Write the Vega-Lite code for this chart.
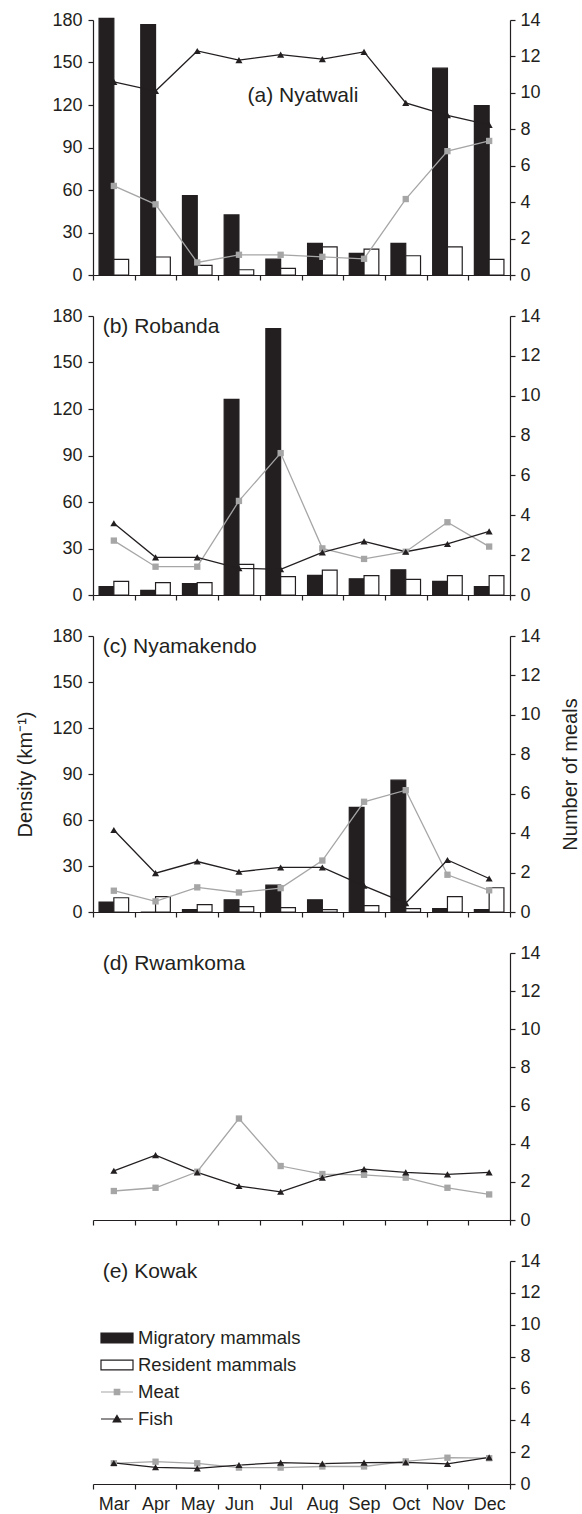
{
  "$schema": "https://vega.github.io/schema/vega-lite/v6.json",
  "padding": {"left": 15, "top": 11, "right": 0, "bottom": 0},
  "background": "white",
  "config": {
    "font": "Liberation Sans",
    "view": {"stroke": null},
    "axis": {"labelFont": "Liberation Sans", "labelFontSize": 18, "labelColor": "#231f20", "domainColor": "#231f20", "tickColor": "#231f20", "domainWidth": 1.2, "tickWidth": 1.2, "grid": false, "titleFont": "Liberation Sans", "titleFontSize": 20, "titleFontWeight": "normal", "titleColor": "#231f20"},
    "title": {"font": "Liberation Sans", "fontSize": 21, "fontWeight": "normal", "color": "#231f20", "anchor": "start", "frame": "group", "baseline": "middle", "offset": 0}
  },
  "spacing": 23,
  "data": {"values": [
    {"p": "a", "m": "Mar", "Migratory mammals": 181.2, "Resident mammals": 11, "Meat": 4.89, "Fish": 10.6},
    {"p": "a", "m": "Apr", "Migratory mammals": 176.7, "Resident mammals": 12.7, "Meat": 3.88, "Fish": 10.1},
    {"p": "a", "m": "May", "Migratory mammals": 56, "Resident mammals": 6.8, "Meat": 0.69, "Fish": 12.3},
    {"p": "a", "m": "Jun", "Migratory mammals": 42.4, "Resident mammals": 3.7, "Meat": 1.11, "Fish": 11.8},
    {"p": "a", "m": "Jul", "Migratory mammals": 11.2, "Resident mammals": 4.7, "Meat": 1.11, "Fish": 12.1},
    {"p": "a", "m": "Aug", "Migratory mammals": 22.3, "Resident mammals": 19.9, "Meat": 1.0, "Fish": 11.85},
    {"p": "a", "m": "Sep", "Migratory mammals": 15.2, "Resident mammals": 18.3, "Meat": 0.89, "Fish": 12.25},
    {"p": "a", "m": "Oct", "Migratory mammals": 22.3, "Resident mammals": 13.6, "Meat": 4.17, "Fish": 9.45},
    {"p": "a", "m": "Nov", "Migratory mammals": 146, "Resident mammals": 19.9, "Meat": 6.8, "Fish": 8.77},
    {"p": "a", "m": "Dec", "Migratory mammals": 119.5, "Resident mammals": 11, "Meat": 7.36, "Fish": 8.24},
    {"p": "b", "m": "Mar", "Migratory mammals": 5.4, "Resident mammals": 8.8, "Meat": 2.73, "Fish": 3.6},
    {"p": "b", "m": "Apr", "Migratory mammals": 3, "Resident mammals": 8, "Meat": 1.42, "Fish": 1.89},
    {"p": "b", "m": "May", "Migratory mammals": 7.3, "Resident mammals": 8, "Meat": 1.42, "Fish": 1.89},
    {"p": "b", "m": "Jun", "Migratory mammals": 126.2, "Resident mammals": 19.8, "Meat": 4.72, "Fish": 1.34},
    {"p": "b", "m": "Jul", "Migratory mammals": 171.8, "Resident mammals": 11.8, "Meat": 7.12, "Fish": 1.29},
    {"p": "b", "m": "Aug", "Migratory mammals": 12.7, "Resident mammals": 16.1, "Meat": 2.34, "Fish": 2.14},
    {"p": "b", "m": "Sep", "Migratory mammals": 10.5, "Resident mammals": 12.5, "Meat": 1.81, "Fish": 2.69},
    {"p": "b", "m": "Oct", "Migratory mammals": 16.3, "Resident mammals": 10.1, "Meat": 2.17, "Fish": 2.17},
    {"p": "b", "m": "Nov", "Migratory mammals": 8.8, "Resident mammals": 12.5, "Meat": 3.65, "Fish": 2.56},
    {"p": "b", "m": "Dec", "Migratory mammals": 5.4, "Resident mammals": 12.5, "Meat": 2.43, "Fish": 3.19},
    {"p": "c", "m": "Mar", "Migratory mammals": 6.5, "Resident mammals": 9.3, "Meat": 1.08, "Fish": 4.16},
    {"p": "c", "m": "Apr", "Migratory mammals": 0, "Resident mammals": 10, "Meat": 0.54, "Fish": 1.97},
    {"p": "c", "m": "May", "Migratory mammals": 1.5, "Resident mammals": 4.8, "Meat": 1.25, "Fish": 2.56},
    {"p": "c", "m": "Jun", "Migratory mammals": 8, "Resident mammals": 3.5, "Meat": 0.99, "Fish": 2.04},
    {"p": "c", "m": "Jul", "Migratory mammals": 17.5, "Resident mammals": 2.8, "Meat": 1.21, "Fish": 2.26},
    {"p": "c", "m": "Aug", "Migratory mammals": 8, "Resident mammals": 1.5, "Meat": 2.61, "Fish": 2.26},
    {"p": "c", "m": "Sep", "Migratory mammals": 68.2, "Resident mammals": 4.1, "Meat": 5.59, "Fish": 1.33},
    {"p": "c", "m": "Oct", "Migratory mammals": 86, "Resident mammals": 2.2, "Meat": 6.18, "Fish": 0.45},
    {"p": "c", "m": "Nov", "Migratory mammals": 2.2, "Resident mammals": 10, "Meat": 1.89, "Fish": 2.64},
    {"p": "c", "m": "Dec", "Migratory mammals": 1.5, "Resident mammals": 15.8, "Meat": 1.1, "Fish": 1.7},
    {"p": "d", "m": "Mar", "Meat": 1.52, "Fish": 2.58},
    {"p": "d", "m": "Apr", "Meat": 1.69, "Fish": 3.4},
    {"p": "d", "m": "May", "Meat": 2.53, "Fish": 2.5},
    {"p": "d", "m": "Jun", "Meat": 5.32, "Fish": 1.78},
    {"p": "d", "m": "Jul", "Meat": 2.83, "Fish": 1.48},
    {"p": "d", "m": "Aug", "Meat": 2.41, "Fish": 2.22},
    {"p": "d", "m": "Sep", "Meat": 2.37, "Fish": 2.67},
    {"p": "d", "m": "Oct", "Meat": 2.22, "Fish": 2.5},
    {"p": "d", "m": "Nov", "Meat": 1.69, "Fish": 2.39},
    {"p": "d", "m": "Dec", "Meat": 1.34, "Fish": 2.5},
    {"p": "e", "m": "Mar", "Meat": 1.3, "Fish": 1.32},
    {"p": "e", "m": "Apr", "Meat": 1.4, "Fish": 1.05},
    {"p": "e", "m": "May", "Meat": 1.3, "Fish": 0.98},
    {"p": "e", "m": "Jun", "Meat": 1.03, "Fish": 1.19},
    {"p": "e", "m": "Jul", "Meat": 1.03, "Fish": 1.34},
    {"p": "e", "m": "Aug", "Meat": 1.1, "Fish": 1.28},
    {"p": "e", "m": "Sep", "Meat": 1.1, "Fish": 1.34},
    {"p": "e", "m": "Oct", "Meat": 1.42, "Fish": 1.36},
    {"p": "e", "m": "Nov", "Meat": 1.65, "Fish": 1.26},
    {"p": "e", "m": "Dec", "Meat": 1.62, "Fish": 1.67}
  ]},
  "vconcat": [
    {
      "width": 417, "height": 255,
      "title": {"text": "(a) Nyatwali", "dx": 154.5, "dy": 99},
      "transform": [{"filter": "datum.p == 'a'"}, {"fold": ["Migratory mammals", "Resident mammals", "Meat", "Fish"], "as": ["s", "v"]}, {"filter": "isValid(datum.v)"}],
      "layer": [
        {
          "transform": [{"filter": "datum.s == 'Migratory mammals' || datum.s == 'Resident mammals'"}],
          "mark": {"type": "bar", "stroke": "#231f20", "strokeWidth": 1.2},
          "encoding": {
            "x": {"field": "m", "type": "nominal", "sort": ["Mar","Apr","May","Jun","Jul","Aug","Sep","Oct","Nov","Dec"], "scale": {"type": "band", "domain": ["Mar","Apr","May","Jun","Jul","Aug","Sep","Oct","Nov","Dec"], "paddingInner": 0, "paddingOuter": 0}, "axis": {"title": null, "labels": false, "tickBand": "extent", "tickSize": 5}},
            "xOffset": {"field": "s", "type": "nominal", "sort": ["Migratory mammals", "Resident mammals"], "scale": {"paddingInner": 0, "paddingOuter": 0.41}},
            "y": {"field": "v", "type": "quantitative", "scale": {"domain": [0, 180], "nice": false}, "axis": {"orient": "left", "values": [0, 30, 60, 90, 120, 150, 180], "title": null, "tickSize": 5, "labelPadding": 6}},
            "fill": {"field": "s", "type": "nominal", "scale": {"domain": ["Migratory mammals", "Resident mammals"], "range": ["#231f20", "#ffffff"]}, "legend": null}
          }
        },
        {
          "transform": [{"filter": "datum.s == 'Meat' || datum.s == 'Fish'"}],
          "encoding": {
            "x": {"field": "m", "type": "nominal", "sort": ["Mar","Apr","May","Jun","Jul","Aug","Sep","Oct","Nov","Dec"], "scale": {"type": "band", "domain": ["Mar","Apr","May","Jun","Jul","Aug","Sep","Oct","Nov","Dec"], "paddingInner": 0, "paddingOuter": 0}, "axis": {"title": null, "labels": false, "tickBand": "extent", "tickSize": 5}},
            "y": {"field": "v", "type": "quantitative", "scale": {"domain": [0, 14], "nice": false}, "axis": {"orient": "right", "values": [0, 2, 4, 6, 8, 10, 12, 14], "title": null, "tickSize": 5, "labelPadding": 5}}
          },
          "layer": [
            {"mark": {"type": "line", "strokeWidth": 1.3}, "encoding": {"color": {"field": "s", "type": "nominal", "scale": {"domain": ["Meat", "Fish"], "range": ["#a6a6a6", "#231f20"]}, "legend": null}, "order": {"value": null}}},
            {"transform": [{"filter": "datum.s == 'Meat'"}], "mark": {"type": "point", "shape": "square", "filled": true, "color": "#a6a6a6", "size": 40, "opacity": 1}},
            {"transform": [{"filter": "datum.s == 'Fish'"}], "mark": {"type": "point", "shape": "triangle-up", "filled": true, "color": "#231f20", "size": 50, "opacity": 1}}
          ]
        }
      ],
      "resolve": {"scale": {"y": "independent"}}
    },
    {
      "width": 417, "height": 279,
      "title": {"text": "(b) Robanda", "dx": 9.7, "dy": 33.5},
      "transform": [{"filter": "datum.p == 'b'"}, {"fold": ["Migratory mammals", "Resident mammals", "Meat", "Fish"], "as": ["s", "v"]}, {"filter": "isValid(datum.v)"}],
      "layer": [
        {
          "transform": [{"filter": "datum.s == 'Migratory mammals' || datum.s == 'Resident mammals'"}],
          "mark": {"type": "bar", "stroke": "#231f20", "strokeWidth": 1.2},
          "encoding": {
            "x": {"field": "m", "type": "nominal", "sort": ["Mar","Apr","May","Jun","Jul","Aug","Sep","Oct","Nov","Dec"], "scale": {"type": "band", "domain": ["Mar","Apr","May","Jun","Jul","Aug","Sep","Oct","Nov","Dec"], "paddingInner": 0, "paddingOuter": 0}, "axis": {"title": null, "labels": false, "tickBand": "extent", "tickSize": 5}},
            "xOffset": {"field": "s", "type": "nominal", "sort": ["Migratory mammals", "Resident mammals"], "scale": {"paddingInner": 0, "paddingOuter": 0.41}},
            "y": {"field": "v", "type": "quantitative", "scale": {"domain": [0, 180], "nice": false}, "axis": {"orient": "left", "values": [0, 30, 60, 90, 120, 150, 180], "title": null, "tickSize": 5, "labelPadding": 6}},
            "fill": {"field": "s", "type": "nominal", "scale": {"domain": ["Migratory mammals", "Resident mammals"], "range": ["#231f20", "#ffffff"]}, "legend": null}
          }
        },
        {
          "transform": [{"filter": "datum.s == 'Meat' || datum.s == 'Fish'"}],
          "encoding": {
            "x": {"field": "m", "type": "nominal", "sort": ["Mar","Apr","May","Jun","Jul","Aug","Sep","Oct","Nov","Dec"], "scale": {"type": "band", "domain": ["Mar","Apr","May","Jun","Jul","Aug","Sep","Oct","Nov","Dec"], "paddingInner": 0, "paddingOuter": 0}, "axis": {"title": null, "labels": false, "tickBand": "extent", "tickSize": 5}},
            "y": {"field": "v", "type": "quantitative", "scale": {"domain": [0, 14], "nice": false}, "axis": {"orient": "right", "values": [0, 2, 4, 6, 8, 10, 12, 14], "title": null, "tickSize": 5, "labelPadding": 5}}
          },
          "layer": [
            {"mark": {"type": "line", "strokeWidth": 1.3}, "encoding": {"color": {"field": "s", "type": "nominal", "scale": {"domain": ["Meat", "Fish"], "range": ["#a6a6a6", "#231f20"]}, "legend": null}, "order": {"value": null}}},
            {"transform": [{"filter": "datum.s == 'Meat'"}], "mark": {"type": "point", "shape": "square", "filled": true, "color": "#a6a6a6", "size": 40, "opacity": 1}},
            {"transform": [{"filter": "datum.s == 'Fish'"}], "mark": {"type": "point", "shape": "triangle-up", "filled": true, "color": "#231f20", "size": 50, "opacity": 1}}
          ]
        }
      ],
      "resolve": {"scale": {"y": "independent"}}
    },
    {
      "width": 417, "height": 276,
      "title": {"text": "(c) Nyamakendo", "dx": 9.7, "dy": 33.5},
      "transform": [{"filter": "datum.p == 'c'"}, {"fold": ["Migratory mammals", "Resident mammals", "Meat", "Fish"], "as": ["s", "v"]}, {"filter": "isValid(datum.v)"}],
      "layer": [
        {
          "transform": [{"filter": "datum.s == 'Migratory mammals' || datum.s == 'Resident mammals'"}],
          "mark": {"type": "bar", "stroke": "#231f20", "strokeWidth": 1.2},
          "encoding": {
            "x": {"field": "m", "type": "nominal", "sort": ["Mar","Apr","May","Jun","Jul","Aug","Sep","Oct","Nov","Dec"], "scale": {"type": "band", "domain": ["Mar","Apr","May","Jun","Jul","Aug","Sep","Oct","Nov","Dec"], "paddingInner": 0, "paddingOuter": 0}, "axis": {"title": null, "labels": false, "tickBand": "extent", "tickSize": 5}},
            "xOffset": {"field": "s", "type": "nominal", "sort": ["Migratory mammals", "Resident mammals"], "scale": {"paddingInner": 0, "paddingOuter": 0.41}},
            "y": {"field": "v", "type": "quantitative", "scale": {"domain": [0, 180], "nice": false}, "axis": {"orient": "left", "values": [0, 30, 60, 90, 120, 150, 180], "title": "Density (km⁻¹)", "titlePadding": 16, "tickSize": 5, "labelPadding": 6}},
            "fill": {"field": "s", "type": "nominal", "scale": {"domain": ["Migratory mammals", "Resident mammals"], "range": ["#231f20", "#ffffff"]}, "legend": null}
          }
        },
        {
          "transform": [{"filter": "datum.s == 'Meat' || datum.s == 'Fish'"}],
          "encoding": {
            "x": {"field": "m", "type": "nominal", "sort": ["Mar","Apr","May","Jun","Jul","Aug","Sep","Oct","Nov","Dec"], "scale": {"type": "band", "domain": ["Mar","Apr","May","Jun","Jul","Aug","Sep","Oct","Nov","Dec"], "paddingInner": 0, "paddingOuter": 0}, "axis": {"title": null, "labels": false, "tickBand": "extent", "tickSize": 5}},
            "y": {"field": "v", "type": "quantitative", "scale": {"domain": [0, 14], "nice": false}, "axis": {"orient": "right", "values": [0, 2, 4, 6, 8, 10, 12, 14], "title": "Number of meals", "titleAngle": 270, "titleBaseline": "top", "titlePadding": 20, "tickSize": 5, "labelPadding": 5}}
          },
          "layer": [
            {"mark": {"type": "line", "strokeWidth": 1.3}, "encoding": {"color": {"field": "s", "type": "nominal", "scale": {"domain": ["Meat", "Fish"], "range": ["#a6a6a6", "#231f20"]}, "legend": null}, "order": {"value": null}}},
            {"transform": [{"filter": "datum.s == 'Meat'"}], "mark": {"type": "point", "shape": "square", "filled": true, "color": "#a6a6a6", "size": 40, "opacity": 1}},
            {"transform": [{"filter": "datum.s == 'Fish'"}], "mark": {"type": "point", "shape": "triangle-up", "filled": true, "color": "#231f20", "size": 50, "opacity": 1}}
          ]
        }
      ],
      "resolve": {"scale": {"y": "independent"}}
    },
    {
      "width": 417, "height": 267,
      "title": {"text": "(d) Rwamkoma", "dx": 9.7, "dy": 33.5},
      "transform": [{"filter": "datum.p == 'd'"}, {"fold": ["Meat", "Fish"], "as": ["s", "v"]}, {"filter": "isValid(datum.v)"}],
      "encoding": {
        "x": {"field": "m", "type": "nominal", "sort": ["Mar","Apr","May","Jun","Jul","Aug","Sep","Oct","Nov","Dec"], "scale": {"type": "band", "domain": ["Mar","Apr","May","Jun","Jul","Aug","Sep","Oct","Nov","Dec"], "paddingInner": 0, "paddingOuter": 0}, "axis": {"title": null, "labels": false, "tickBand": "extent", "tickSize": 5}},
        "y": {"field": "v", "type": "quantitative", "scale": {"domain": [0, 14], "nice": false}, "axis": {"orient": "right", "values": [0, 2, 4, 6, 8, 10, 12, 14], "title": null, "tickSize": 5, "labelPadding": 5}}
      },
      "layer": [
        {"mark": {"type": "line", "strokeWidth": 1.3}, "encoding": {"color": {"field": "s", "type": "nominal", "scale": {"domain": ["Meat", "Fish"], "range": ["#a6a6a6", "#231f20"]}, "legend": null}, "order": {"value": null}}},
        {"transform": [{"filter": "datum.s == 'Meat'"}], "mark": {"type": "point", "shape": "square", "filled": true, "color": "#a6a6a6", "size": 40, "opacity": 1}},
        {"transform": [{"filter": "datum.s == 'Fish'"}], "mark": {"type": "point", "shape": "triangle-up", "filled": true, "color": "#231f20", "size": 50, "opacity": 1}}
      ]
    },
    {
      "width": 417, "height": 223,
      "title": {"text": "(e) Kowak", "dx": 9.7, "dy": 33.5},
      "transform": [{"filter": "datum.p == 'e'"}, {"fold": ["Migratory mammals", "Resident mammals", "Meat", "Fish"], "as": ["s", "v"]}, {"filter": "isValid(datum.v)"}],
      "encoding": {
        "x": {"field": "m", "type": "nominal", "sort": ["Mar","Apr","May","Jun","Jul","Aug","Sep","Oct","Nov","Dec"], "scale": {"type": "band", "domain": ["Mar","Apr","May","Jun","Jul","Aug","Sep","Oct","Nov","Dec"], "paddingInner": 0, "paddingOuter": 0}, "axis": {"title": null, "labels": true, "labelAngle": 0, "tickBand": "extent", "tickSize": 5, "labelPadding": 6}},
        "y": {"field": "v", "type": "quantitative", "scale": {"domain": [0, 14], "nice": false}, "axis": {"orient": "right", "values": [0, 2, 4, 6, 8, 10, 12, 14], "title": null, "tickSize": 5, "labelPadding": 5}}
      },
      "layer": [
        {"transform": [{"filter": "datum.s == 'Meat' || datum.s == 'Fish'"}], "mark": {"type": "line", "strokeWidth": 1.3}, "encoding": {"color": {"field": "s", "type": "nominal", "scale": {"domain": ["Meat", "Fish"], "range": ["#a6a6a6", "#231f20"]}, "legend": null}, "order": {"value": null}}},
        {"transform": [{"filter": "datum.s == 'Meat'"}], "mark": {"type": "point", "shape": "square", "filled": true, "color": "#a6a6a6", "size": 40, "opacity": 1}},
        {"transform": [{"filter": "datum.s == 'Fish'"}], "mark": {"type": "point", "shape": "triangle-up", "filled": true, "color": "#231f20", "size": 50, "opacity": 1}},
        {
          "transform": [{"filter": "datum.s == 'Migratory mammals' || datum.s == 'Resident mammals'"}],
          "mark": {"type": "point", "filled": true, "opacity": 1},
          "encoding": {
            "fill": {"field": "s", "type": "nominal", "scale": {"domain": ["Migratory mammals", "Resident mammals", "Meat", "Fish"], "range": ["#231f20", "#ffffff", "#a6a6a6", "#231f20"]}, "legend": {"orient": "none", "legendX": 7, "legendY": 60, "title": null, "symbolSize": 1024, "symbolStrokeWidth": 1.2, "labelFontSize": 18.5, "labelFont": "Liberation Sans", "labelColor": "#231f20", "labelOffset": 4, "labelLimit": 400, "rowPadding": -5, "padding": 0, "symbolOpacity": 1}},
            "stroke": {"field": "s", "type": "nominal", "scale": {"domain": ["Migratory mammals", "Resident mammals", "Meat", "Fish"], "range": ["#231f20", "#231f20", "#a6a6a6", "#231f20"]}, "legend": {"orient": "none", "legendX": 7, "legendY": 60, "title": null, "symbolSize": 1024, "symbolStrokeWidth": 1.2, "labelFontSize": 18.5, "labelFont": "Liberation Sans", "labelColor": "#231f20", "labelOffset": 4, "labelLimit": 400, "rowPadding": -5, "padding": 0, "symbolOpacity": 1}},
            "shape": {"field": "s", "type": "nominal", "scale": {"domain": ["Migratory mammals", "Resident mammals", "Meat", "Fish"], "range": ["M-1,-0.31H1V0.31H-1Z", "M-1,-0.31H1V0.31H-1Z", "M-1,0H1M-0.17,-0.17H0.17V0.17H-0.17Z", "M-1,0H1M0,-0.22L0.24,0.18H-0.24Z"]}, "legend": {"orient": "none", "legendX": 7, "legendY": 60, "title": null, "symbolSize": 1024, "symbolStrokeWidth": 1.2, "labelFontSize": 18.5, "labelFont": "Liberation Sans", "labelColor": "#231f20", "labelOffset": 4, "labelLimit": 400, "rowPadding": -5, "padding": 0, "symbolOpacity": 1}}
          }
        }
      ]
    }
  ],
  "resolve": {"scale": {"fill": "independent", "color": "independent", "stroke": "independent", "shape": "independent"}}
}
